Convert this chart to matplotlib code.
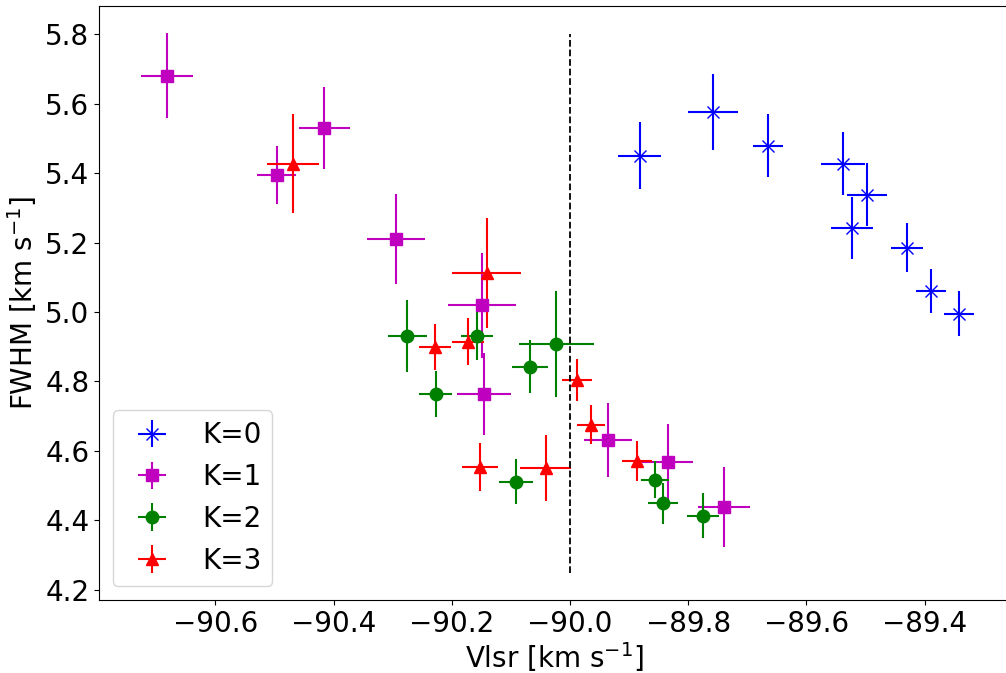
import numpy as np
import matplotlib
matplotlib.use('Agg')
import matplotlib.pyplot as plt

# K=0
v0 = [-89.882, -89.758, -89.665, -89.538, -89.498, -89.523, -89.430, -89.389, -89.342]
f0 = [5.450, 5.576, 5.479, 5.427, 5.338, 5.242, 5.185, 5.061, 4.995]
ve0 = [0.036, 0.042, 0.025, 0.037, 0.034, 0.035, 0.027, 0.025, 0.025]
fe0 = [0.096, 0.110, 0.090, 0.090, 0.090, 0.090, 0.071, 0.064, 0.065]

# K=1
v1 = [-90.682, -90.496, -90.416, -90.294, -90.149, -90.146, -89.936, -89.835, -89.739]
f1 = [5.680, 5.395, 5.530, 5.210, 5.020, 4.764, 4.632, 4.567, 4.439]
ve1 = [0.044, 0.033, 0.043, 0.049, 0.058, 0.046, 0.041, 0.043, 0.044]
fe1 = [0.122, 0.084, 0.119, 0.130, 0.151, 0.117, 0.106, 0.112, 0.116]

# K=2
v2 = [-90.275, -90.227, -90.157, -90.068, -90.023, -90.092, -89.856, -89.843, -89.775]
f2 = [4.931, 4.764, 4.931, 4.842, 4.908, 4.512, 4.517, 4.450, 4.414]
ve2 = [0.033, 0.028, 0.027, 0.031, 0.063, 0.029, 0.024, 0.025, 0.027]
fe2 = [0.103, 0.066, 0.070, 0.076, 0.153, 0.066, 0.053, 0.059, 0.064]

# K=3
v3 = [-90.469, -90.141, -90.228, -90.173, -90.152, -90.041, -89.988, -89.964, -89.887]
f3 = [5.427, 5.113, 4.900, 4.915, 4.554, 4.551, 4.805, 4.676, 4.571]
ve3 = [0.044, 0.058, 0.027, 0.027, 0.030, 0.043, 0.025, 0.024, 0.025]
fe3 = [0.142, 0.158, 0.066, 0.067, 0.069, 0.096, 0.060, 0.056, 0.057]

fig = plt.figure(figsize=(10.06, 6.73), dpi=100)
ax = fig.add_axes([0.0984, 0.1085, 0.9056, 0.8826])

kw = dict(ls='none', elinewidth=1.5, ms=9)
ax.errorbar(v0, f0, xerr=ve0, yerr=fe0, fmt='bx', label='K=0', **kw)
ax.errorbar(v1, f1, xerr=ve1, yerr=fe1, fmt='ms', label='K=1', **kw)
ax.errorbar(v2, f2, xerr=ve2, yerr=fe2, fmt='go', label='K=2', **kw)
ax.errorbar(v3, f3, xerr=ve3, yerr=fe3, fmt='r^', label='K=3', **kw)

# dashed line at -90
ax.vlines(-90.0, 4.25, 5.8, colors='k', linestyles='dashed', linewidth=1.3)

ax.set_xlim(-90.797, -89.2555)
ax.set_ylim(4.171, 5.881)
ax.set_xticks([-90.6, -90.4, -90.2, -90.0, -89.8, -89.6, -89.4])
ax.set_yticks([4.2, 4.4, 4.6, 4.8, 5.0, 5.2, 5.4, 5.6, 5.8])
ax.tick_params(labelsize=20)
ax.set_xlabel('Vlsr [km s$^{-1}$]', fontsize=20, labelpad=2)
ax.set_ylabel('FWHM [km s$^{-1}$]', fontsize=20)
ax.legend(loc='lower left', fontsize=20)

plt.savefig('out.png', dpi=100)
